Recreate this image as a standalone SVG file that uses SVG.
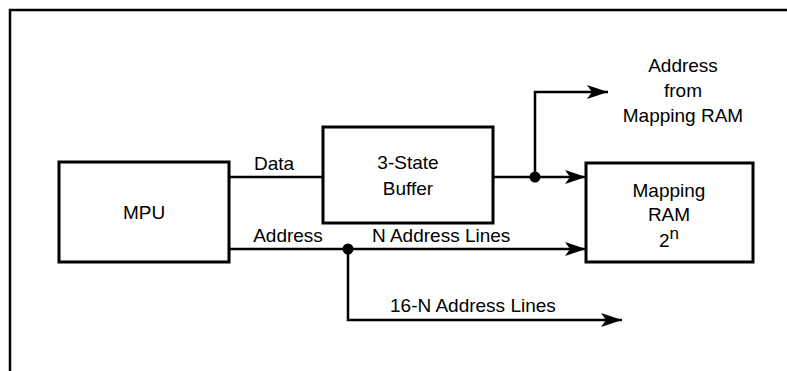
<svg xmlns="http://www.w3.org/2000/svg" width="787" height="371" viewBox="0 0 787 371">
  <style>
    .box { fill: #fff; stroke: #000; stroke-width: 3; }
    .wire { fill: none; stroke: #000; stroke-width: 2.5; }
    .frame { fill: none; stroke: #000; stroke-width: 2.5; }
    text { font-family: "Liberation Sans", Arial, sans-serif; font-size: 19px; fill: #000; }
    .c { text-anchor: middle; }
  </style>
  <defs>
    <marker id="arrow" markerUnits="userSpaceOnUse" markerWidth="24" markerHeight="16" refX="21" refY="7" orient="auto">
      <path d="M21,7 L0,0 L5,7 L0,14 Z" fill="#000"/>
    </marker>
  </defs>
  <rect width="787" height="371" fill="#fff"/>

  <!-- outer frame (open at right and bottom) -->
  <path class="frame" d="M10,371 V10 H787"/>

  <!-- connectors -->
  <g id="connectors">
    <!-- Data bus: MPU to buffer -->
    <path class="wire" d="M229,177 H323"/>
    <!-- Buffer output to mapping RAM -->
    <path class="wire" d="M493,177 H586" marker-end="url(#arrow)"/>
    <!-- Tap: address from mapping RAM -->
    <path class="wire" d="M535,177 V92 H608" marker-end="url(#arrow)"/>
    <!-- N address lines -->
    <path class="wire" d="M229,249 H586" marker-end="url(#arrow)"/>
    <!-- 16-N address lines -->
    <path class="wire" d="M348,249 V320 H622" marker-end="url(#arrow)"/>
    <circle cx="535" cy="177" r="5.5" fill="#000"/>
    <circle cx="348" cy="249" r="5.5" fill="#000"/>
    <text x="274" y="170" class="c">Data</text>
    <text x="288" y="242" class="c">Address</text>
    <text x="372" y="242">N Address Lines</text>
    <text x="390" y="312">16-N Address Lines</text>
    <text x="683" y="72" class="c">Address</text>
    <text x="683" y="97" class="c">from</text>
    <text x="683" y="122" class="c">Mapping RAM</text>
  </g>

  <g id="mpu">
    <rect class="box" x="59" y="162" width="170" height="100"/>
    <text x="144" y="219" class="c">MPU</text>
  </g>

  <g id="buffer">
    <rect class="box" x="323" y="127" width="170" height="96"/>
    <text x="408" y="169" class="c">3-State</text>
    <text x="408" y="195" class="c">Buffer</text>
  </g>

  <g id="mapping-ram">
    <rect class="box" x="586" y="163" width="167" height="99"/>
    <text x="669" y="197" class="c">Mapping</text>
    <text x="669" y="221" class="c">RAM</text>
    <text x="669" y="247" class="c">2<tspan dy="-8" font-size="17">n</tspan></text>
  </g>
</svg>
